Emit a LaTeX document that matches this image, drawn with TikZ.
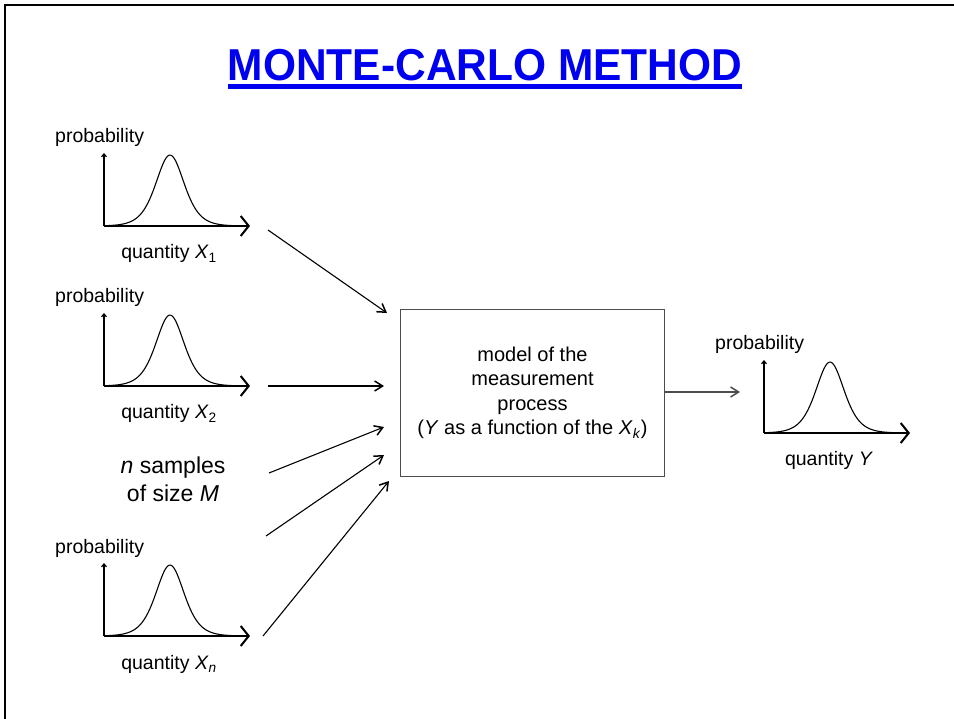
\documentclass[tikz,border=0pt]{standalone}
\usepackage{fontspec}
\setmainfont{Liberation Sans}
\usetikzlibrary{arrows.meta}
\definecolor{titleblue}{RGB}{0,0,240}
\tikzset{
  lab/.style={inner sep=0pt, font=\fontsize{19.5}{23}\selectfont},
  axisline/.style={line width=1.2pt},
  vaxis/.style={axisline, -{Straight Barb[length=3pt,width=5pt]}},
  haxis/.style={axisline, -{Straight Barb[length=8pt,width=20pt,line width=2pt]}},
  bell/.style={line width=1.1pt},
  conn/.style={line width=1.1pt, -{Straight Barb[length=8pt,width=10pt,line width=1.5pt]}},
  modelbox/.style={draw=black!70, line width=1.3pt, minimum width=264pt, minimum height=167pt,
    align=center, inner sep=0pt, font=\fontsize{20}{24.5}\selectfont},
}
\newcommand\distplot[4]{%
  \begin{scope}[shift={(#2,#3)}]
    \coordinate (#1o) at (0,0);
    \coordinate (#1t) at (0,-73);
    \coordinate (#1r) at (146,0);
    \draw[vaxis] (#1o) -- (#1t);
    \draw[haxis] (#1o) -- (#1r);
    \draw[bell] plot[domain=0:132, samples=100, smooth] (\x, {-71*4/(exp((\x-66)/19)+exp(-(\x-66)/19))^2});
    \node[lab, anchor=base west] (#1p) at (-49,-83) {probability};
    \node[lab, anchor=base] (#1q) at (65,33) {quantity #4};
  \end{scope}}
\begin{document}
\begin{tikzpicture}[x=1pt,y=-1pt]
\useasboundingbox (0,0) rectangle (954,719);
% slide frame (top and left edges)
\draw[line width=2.6pt] (5,719) -- (5,5) -- (954,5);
% title
\node[inner sep=0pt, anchor=base, text=titleblue, font=\fontsize{44.7}{50}\selectfont\bfseries]
  (title) at (485,81) {\scalebox{0.95}[1]{MONTE-CARLO METHOD}};
\fill[titleblue] ([yshift=-3pt]title.base west) rectangle ([yshift=-8pt]title.base east);
% distributions
\distplot{pa}{104}{226}{\textit{X}\textsubscript{1}}
\distplot{pb}{104}{386}{\textit{X}\textsubscript{2}}
\distplot{pn}{104}{636}{\textit{X}\textsubscript{\textit{n}}}
\distplot{py}{764}{433}{\textit{Y}}
% samples text
\node[inner sep=0pt, align=center, font=\fontsize{23}{28.4}\selectfont] (samples) at (173,479)
  {\textit{n} samples\\of size \textit{M}};
% model box
\node[modelbox] (model) at (532.5,393)
  {model of the\\measurement\\process\\(\textit{Y} as a function of the \textit{X}\textsubscript{\textit{k}})};
% connector end points
\coordinate (a1s) at (268,230);  \coordinate (a1e) at (387,313);
\coordinate (a2s) at (268,386);  \coordinate (a2e) at (384,386);
\coordinate (a3s) at (269,473);  \coordinate (a3e) at (384,427);
\coordinate (a4s) at (266,536);  \coordinate (a4e) at (384,455);
\coordinate (a5s) at (263,636);  \coordinate (a5e) at (389,481);
\coordinate (outend) at (740,392);
\draw[conn] (a1s) -- (a1e);
\draw[conn] (a2s) -- (a2e);
\draw[conn] (a3s) -- (a3e);
\draw[conn] (a4s) -- (a4e);
\draw[conn] (a5s) -- (a5e);
\draw[conn, draw=black!70] (model.east |- outend) -- (outend);
\end{tikzpicture}
\end{document}
